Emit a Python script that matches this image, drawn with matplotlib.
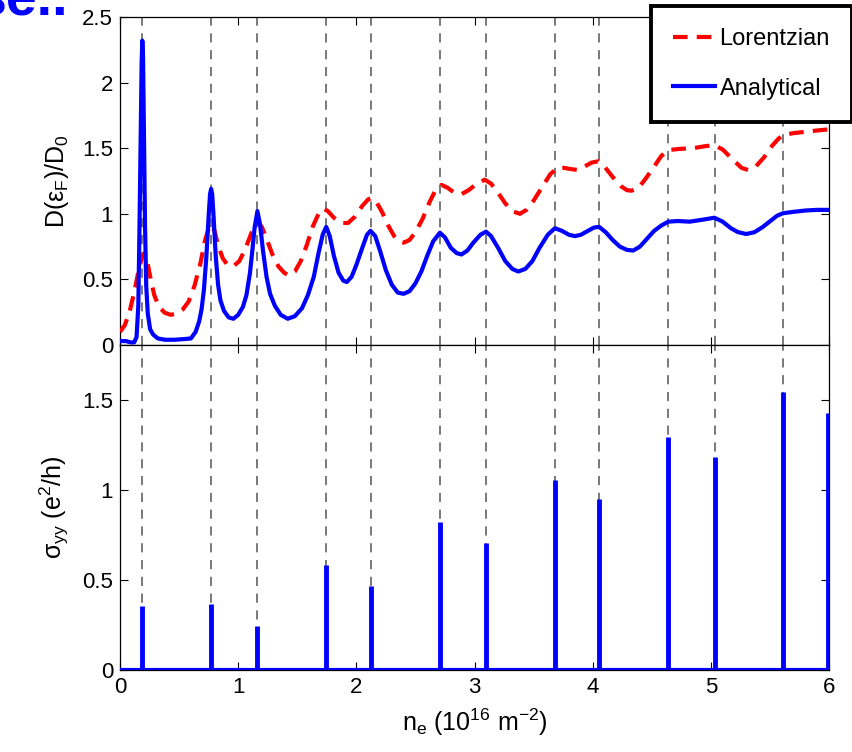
import matplotlib
matplotlib.use("Agg")
import matplotlib.pyplot as plt

# fonts: helvetica-ish, matlab look
plt.rcParams['font.family'] = ['Liberation Sans', 'DejaVu Sans']
plt.rcParams['mathtext.fontset'] = 'custom'
plt.rcParams['mathtext.rm'] = 'Liberation Sans'
plt.rcParams['mathtext.it'] = 'Liberation Sans:italic'
plt.rcParams['mathtext.default'] = 'regular'

# ---- data ----
# Landau level positions (dashed lines), n_e in 1e16 m^-2
level_n = [0.189, 0.770, 1.162, 1.743, 2.121, 2.707, 3.096, 3.680, 4.055,
           4.639, 5.034, 5.612]

# sigma_yy spikes
spike_n = [0.189, 0.770, 1.162, 1.743, 2.121, 2.707, 3.096, 3.680, 4.055,
           4.639, 5.034, 5.612, 5.995]
spike_h = [0.356, 0.367, 0.246, 0.583, 0.468, 0.82, 0.705, 1.056, 0.948,
           1.296, 1.185, 1.543, 1.43]

# analytical DOS
ana_n = [0.0, 0.05, 0.09, 0.12, 0.14, 0.155, 0.165, 0.175, 0.183, 0.189,
         0.195, 0.203, 0.212, 0.222, 0.235, 0.255, 0.28, 0.32, 0.38, 0.46,
         0.54, 0.60, 0.64, 0.67, 0.69, 0.71, 0.73, 0.75, 0.762, 0.771, 0.78,
         0.792, 0.81, 0.83, 0.85, 0.88, 0.92, 0.96, 1.00, 1.04, 1.07, 1.10,
         1.12, 1.14, 1.163, 1.185, 1.21, 1.24, 1.27, 1.31, 1.36, 1.42, 1.48,
         1.54, 1.59, 1.64, 1.68, 1.715, 1.745, 1.775, 1.81, 1.85, 1.89, 1.92,
         1.96, 2.00, 2.05, 2.09, 2.12, 2.16, 2.20, 2.25, 2.30, 2.35, 2.40,
         2.45, 2.50, 2.55, 2.60, 2.65, 2.707, 2.75, 2.80, 2.85, 2.89, 2.94,
         2.99, 3.05, 3.097, 3.14, 3.20, 3.26, 3.32, 3.37, 3.43, 3.49, 3.55,
         3.62, 3.68, 3.74, 3.80, 3.85, 3.90, 3.96, 4.01, 4.055, 4.11, 4.17,
         4.23, 4.29, 4.343, 4.40, 4.46, 4.52, 4.58, 4.64, 4.72, 4.82, 4.93,
         5.03, 5.10, 5.17, 5.23, 5.30, 5.37, 5.44, 5.51, 5.56, 5.61, 5.70,
         5.80, 5.90, 6.0]
ana_d = [0.03, 0.03, 0.02, 0.02, 0.06, 0.30, 0.9, 1.6, 2.15, 2.32,
         2.2, 1.6, 0.9, 0.45, 0.24, 0.12, 0.08, 0.05, 0.04, 0.04,
         0.045, 0.05, 0.10, 0.18, 0.27, 0.42, 0.66, 0.98, 1.15, 1.19, 1.15,
         0.98, 0.68, 0.46, 0.34, 0.26, 0.21, 0.20, 0.23, 0.29, 0.38, 0.55,
         0.72, 0.90, 1.02, 0.92, 0.72, 0.52, 0.39, 0.30, 0.23, 0.20, 0.22,
         0.28, 0.38, 0.52, 0.70, 0.84, 0.90, 0.83, 0.68, 0.55, 0.49, 0.48,
         0.52, 0.61, 0.74, 0.84, 0.87, 0.83, 0.72, 0.57, 0.46, 0.40, 0.39,
         0.41, 0.47, 0.56, 0.68, 0.79, 0.856, 0.82, 0.74, 0.70, 0.69, 0.72,
         0.78, 0.84, 0.864, 0.83, 0.74, 0.64, 0.58, 0.56, 0.58, 0.64, 0.74,
         0.84, 0.89, 0.87, 0.84, 0.83, 0.84, 0.87, 0.895, 0.90, 0.86, 0.80,
         0.75, 0.725, 0.72, 0.75, 0.81, 0.87, 0.91, 0.94, 0.945, 0.94, 0.955,
         0.97, 0.94, 0.89, 0.86, 0.846, 0.86, 0.90, 0.95, 0.985, 1.004, 1.015,
         1.025, 1.03, 1.03]

# Lorentzian DOS
lor_n = [0.0, 0.04, 0.08, 0.12, 0.16, 0.19, 0.21, 0.23, 0.26, 0.29, 0.33,
         0.38, 0.43, 0.48, 0.53, 0.58, 0.63, 0.68, 0.72, 0.755, 0.776, 0.80,
         0.83, 0.87, 0.91, 0.96, 1.01, 1.06, 1.11, 1.15, 1.17, 1.20, 1.24,
         1.29, 1.34, 1.39, 1.43, 1.48, 1.53, 1.58, 1.63, 1.68, 1.72, 1.76,
         1.81, 1.87, 1.93, 1.99, 2.05, 2.10, 2.13, 2.17, 2.22, 2.27, 2.32,
         2.36, 2.40, 2.45, 2.50, 2.56, 2.62, 2.67, 2.72, 2.77, 2.83, 2.89,
         2.95, 3.02, 3.088, 3.14, 3.20, 3.26, 3.32, 3.384, 3.44, 3.50, 3.57,
         3.64, 3.70, 3.76, 3.82, 3.87, 3.93, 3.99, 4.047, 4.10, 4.17, 4.24,
         4.29, 4.33, 4.39, 4.45, 4.52, 4.58, 4.64, 4.74, 4.85, 4.95, 5.03,
         5.10, 5.19, 5.26, 5.315, 5.38, 5.45, 5.52, 5.57, 5.61, 5.70, 5.80,
         5.90, 6.0]
lor_d = [0.10, 0.15, 0.25, 0.40, 0.58, 0.68, 0.70, 0.64, 0.50, 0.38, 0.29,
         0.245, 0.23, 0.24, 0.27, 0.33, 0.45, 0.62, 0.80, 0.90, 0.915, 0.87,
         0.76, 0.66, 0.61, 0.60, 0.64, 0.73, 0.85, 0.92, 0.93, 0.90, 0.81,
         0.69, 0.60, 0.55, 0.53, 0.56, 0.64, 0.76, 0.90, 1.00, 1.04, 1.02,
         0.97, 0.93, 0.93, 0.98, 1.06, 1.11, 1.12, 1.09, 1.01, 0.91, 0.83,
         0.79, 0.78, 0.80, 0.86, 0.96, 1.09, 1.18, 1.22, 1.20, 1.16, 1.15,
         1.18, 1.23, 1.26, 1.23, 1.16, 1.08, 1.02, 1.00, 1.03, 1.10, 1.20,
         1.30, 1.35, 1.35, 1.34, 1.335, 1.36, 1.39, 1.40, 1.36, 1.28, 1.21,
         1.18, 1.176, 1.20, 1.27, 1.36, 1.44, 1.486, 1.495, 1.50, 1.515, 1.524,
         1.49, 1.41, 1.35, 1.334, 1.36, 1.43, 1.52, 1.57, 1.60, 1.615, 1.625,
         1.635, 1.644]

xticks = [0, 1, 2, 3, 4, 5, 6]


def style_axes(ax):
    ax.tick_params(direction='in', top=True, right=True, length=6, width=0.8,
                   labelsize=16, pad=5)
    for s in ax.spines.values():
        s.set_linewidth(0.9)


def main():
    fig = plt.figure(figsize=(8.52, 7.52), dpi=100)
    ax1 = fig.add_axes([120 / 852, 1 - 345 / 752, 709 / 852, 328 / 752])
    ax2 = fig.add_axes([120 / 852, 1 - 670 / 752, 709 / 852, 325 / 752])

    for ax in (ax1, ax2):
        for n in level_n:
            ax.axvline(n, color='#555555', lw=1.1, dashes=(6, 5), zorder=1)

    # top panel: density of states
    ax1.plot(lor_n, lor_d, color='red', lw=3, dashes=(3.5, 2.2),
             label='Lorentzian', zorder=3)
    ax1.plot(ana_n, ana_d, color='blue', lw=3, label='Analytical', zorder=4)
    ax1.set_xlim(0, 6)
    ax1.set_ylim(0, 2.5)
    ax1.set_xticks(xticks)
    ax1.set_xticklabels([])
    ax1.set_yticks([0, 0.5, 1, 1.5, 2, 2.5])
    ax1.set_yticklabels(['0', '0.5', '1', '1.5', '2', '2.5'])
    ax1.set_ylabel('D(ε$_{F}$)/D$_{0}$', fontsize=18, labelpad=8)
    style_axes(ax1)

    leg = ax1.legend(loc='upper left', bbox_to_anchor=(651 / 852, 1 - 6 / 752),
                     bbox_transform=fig.transFigure, borderaxespad=0,
                     fontsize=17, fancybox=False, framealpha=1,
                     edgecolor='black', handlelength=1.75, handletextpad=0.2,
                     labelspacing=1.15, borderpad=0.95)
    leg.get_frame().set_linewidth(2.8)
    leg.set_zorder(10)

    # bottom panel: sigma_yy
    ax2.plot([0, 6], [0, 0], color='blue', lw=3, zorder=3)
    ax2.vlines(spike_n, 0, spike_h, color='blue', lw=3.5, zorder=3)
    ax2.set_xlim(0, 6)
    ax2.set_ylim(0, 1.806)
    ax2.set_xticks(xticks)
    ax2.set_xticklabels([str(t) for t in xticks])
    ax2.set_yticks([0, 0.5, 1, 1.5])
    ax2.set_yticklabels(['0', '0.5', '1', '1.5'])
    ax2.set_ylabel('σ$_{yy}$ (e$^{2}$/h)', fontsize=18, labelpad=8)
    ax2.set_xlabel('n$_{e}$ (10$^{16}$ m$^{-2}$)', fontsize=18, labelpad=6)
    style_axes(ax2)

    # slide title remnant in the corner (cut off in the original too)
    fig.text(68 / 852, 1 - 16 / 752, 'se..', color='blue', fontsize=40,
             fontweight='bold', ha='right', va='baseline')

    fig.savefig('out.png', dpi=100)


if __name__ == '__main__':
    main()
